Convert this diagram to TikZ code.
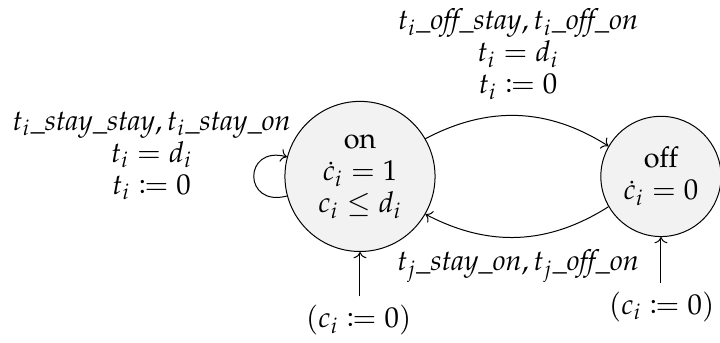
\documentclass[tikz,border=0pt]{standalone}
\usepackage[T1]{fontenc}
\usepackage{amsmath,amssymb,mathtools}
\usepackage{mathpazo}
\usepackage{tikz}
\usetikzlibrary{arrows.meta,positioning,calc}

\newcommand{\us}[1]{\mbox{\itshape\_#1}}

\begin{document}
\begin{tikzpicture}[
  font=\fontsize{11.5}{12.8}\selectfont,
  state/.style={draw, circle, fill=gray!10, align=center, inner sep=1pt},
  arr/.style={->},
  lbl/.style={align=center}
]
\useasboundingbox (0,0) rectangle (10.12,4.82);
\node[state, minimum size=2.11cm] (on) at (5.06,2.34) {on\\$\dot{c}_i = 1$\\$c_i \le d_i$};
\node[state, minimum size=1.69cm] (off) at (9.29,2.34) {off\\$\dot{c}_i = 0$};

\draw[arr] (on) to[bend left=30] node[lbl, above=1mm] {$t_i\us{off}\us{stay}, t_i\us{off}\us{on}$\\$t_i = d_i$\\$t_i \coloneqq 0$} (off);
\draw[arr] (off) to[bend left=30] node[lbl, below=0.5mm] {$t_j\us{stay}\us{on}, t_j\us{off}\us{on}$} (on);
\path (on) edge[arr, loop left, looseness=3] (on);
\node[lbl] (loopl) at (2.13,2.63) {$t_i\us{stay}\us{stay}, t_i\us{stay}\us{on}$\\$t_i = d_i$\\$t_i \coloneqq 0$};

% initial values
\node (initon) at (5.04,0.32) {$(c_i \coloneqq 0)$};
\node (initoff) at (9.30,0.51) {$(c_i \coloneqq 0)$};
\draw[arr] (initon.north -| on.south) -- (on.south);
\draw[arr] (initoff.north -| off.south) -- (off.south);
\end{tikzpicture}
\end{document}
